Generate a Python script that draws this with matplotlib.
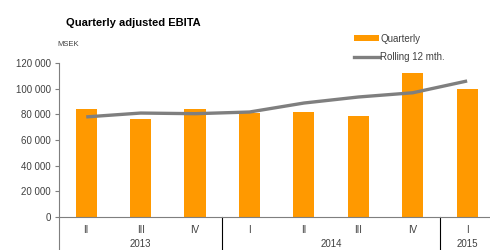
import matplotlib
matplotlib.use("Agg")
import matplotlib.pyplot as plt
import matplotlib.ticker as ticker
from matplotlib.patches import Patch
from matplotlib.lines import Line2D

plt.rcParams['font.family'] = ['Liberation Sans', 'DejaVu Sans']

## Datos ======================================================================
quarters = ["II", "III", "IV", "I", "II", "III", "IV", "I"]
years = ["2013", "2014", "2015"]
year_span = [3, 4, 1]
quarterly = [84000, 76000, 84500, 81000, 81800, 78800, 112300, 99800]
rolling = [78000, 81000, 80500, 81800, 88800, 93500, 96800, 106000]

orange = "#FF9900"
grey = "#7F7F7F"
text_c = "#404040"

## Figura =====================================================================
fig = plt.figure(figsize=(4.9, 2.5), dpi=100)
ax = fig.add_axes([0.1204, 0.132, 0.8796, 0.616])

x = list(range(len(quarters)))
ax.bar(x, quarterly, width=0.39, color=orange, zorder=2)
ax.plot(x, rolling, color=grey, lw=2.4, zorder=3, solid_capstyle="butt")

ax.set_xlim(-0.5, 7.42)
ax.set_ylim(0, 120000)
ax.yaxis.set_major_locator(ticker.MultipleLocator(20000))
ax.yaxis.set_major_formatter(ticker.FuncFormatter(lambda v, p: f"{int(v):,}".replace(",", " ")))

for s in ["top", "right"]:
    ax.spines[s].set_visible(False)
for s in ["left", "bottom"]:
    ax.spines[s].set_color(grey)
    ax.spines[s].set_linewidth(0.8)

ax.tick_params(axis="y", direction="out", length=3, width=0.8, color=grey,
               labelsize=7, labelcolor=text_c, pad=3)
ax.set_xticks(x)
ax.set_xticklabels(quarters)
ax.tick_params(axis="x", length=0, labelsize=7, labelcolor=text_c, pad=6)

# Separadores de años y etiquetas
trans = ax.get_xaxis_transform()
ax.plot([-0.5, -0.5], [0, -0.3], color=grey, lw=0.8, transform=trans, clip_on=False)
start = -0.5
for yr, n in zip(years, year_span):
    end = start + n
    ax.text((start + end) / 2, -0.175, yr, transform=trans, ha="center", va="center",
            fontsize=7, color=text_c)
    if end < 7.4:
        ax.plot([end, end], [0, -0.3], color="#000000", lw=0.8, transform=trans, clip_on=False)
    start = end

fig.text(0.135, 0.91, "Quarterly adjusted EBITA", fontsize=8, fontweight="bold",
         ha="left", va="center", color="#000000")
fig.text(0.118, 0.82, "MSEK", fontsize=5.5, ha="left", va="center", color=text_c)

handles = [Patch(facecolor=orange, edgecolor="none"),
           Line2D([0], [0], color=grey, lw=2.4)]
fig.legend(handles, ["Quarterly", "Rolling 12 mth."], loc="upper left",
           bbox_to_anchor=(0.705, 0.9), frameon=False, fontsize=7,
           handlelength=2.5, handletextpad=0.2, labelspacing=0.9,
           handleheight=0.6, labelcolor=text_c)

plt.savefig("out.png", dpi=100)
